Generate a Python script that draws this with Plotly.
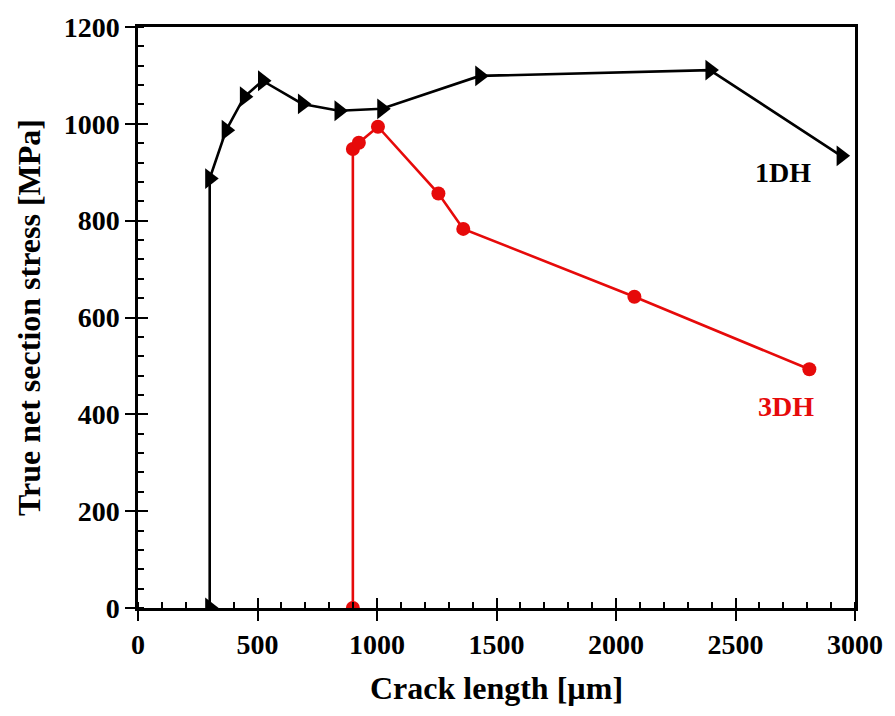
import plotly.graph_objects as go

# Crack length [µm] and true net section stress [MPa] for the two specimens
crack_1dh = [300, 300, 369, 445, 521, 688, 841, 1020, 1430, 2393, 2942]
stress_1dh = [0, 887, 987, 1056, 1089, 1041, 1027, 1031, 1099, 1111, 934]

crack_3dh = [899, 899, 924, 1004, 1257, 1361, 2077, 2809]
stress_3dh = [0, 948, 961, 994, 856, 783, 643, 493]

x_ticks = [0, 500, 1000, 1500, 2000, 2500, 3000]
y_ticks = [0, 200, 400, 600, 800, 1000, 1200]

FONT = "Liberation Serif, Times New Roman, serif"
RED = "#e60a0a"

fig = go.Figure()

fig.add_trace(go.Scatter(
    x=crack_1dh, y=stress_1dh, mode="lines+markers", name="1DH",
    line=dict(color="black", width=2.6),
    marker=dict(symbol="triangle-right", size=18, color="black"),
))
fig.add_trace(go.Scatter(
    x=crack_3dh, y=stress_3dh, mode="lines+markers", name="3DH",
    line=dict(color=RED, width=2.6),
    marker=dict(symbol="circle", size=14, color=RED),
))
# empty trace so the overlay axes (inner half of the major ticks) are drawn
fig.add_trace(go.Scatter(x=[None], y=[None], xaxis="x2", yaxis="y2",
                         showlegend=False, hoverinfo="skip"))

tick_font = dict(family=FONT, size=28, color="black", weight="bold")
title_font = dict(family=FONT, size=32, color="black", weight="bold")

fig.update_layout(
    width=895, height=716,
    margin=dict(l=138, r=36, t=26, b=108),
    paper_bgcolor="white", plot_bgcolor="white",
    showlegend=False,
    xaxis=dict(
        range=[0, 3000], tickvals=x_ticks, ticktext=[str(v) for v in x_ticks],
        showgrid=False, zeroline=False,
        showline=True, linecolor="black", linewidth=2.5, mirror=True,
        ticks="outside", ticklen=10, tickwidth=2, tickcolor="black",
        minor=dict(dtick=100, ticks="inside", ticklen=6, tickwidth=2,
                   tickcolor="black", showgrid=False),
        tickfont=tick_font,
        title=dict(text="Crack length [µm]", font=title_font, standoff=18),
    ),
    yaxis=dict(
        range=[0, 1200], tickvals=y_ticks, ticktext=[str(v) for v in y_ticks],
        showgrid=False, zeroline=False,
        showline=True, linecolor="black", linewidth=2.5, mirror=True,
        ticks="outside", ticklen=10, tickwidth=2, tickcolor="black",
        minor=dict(dtick=40, ticks="inside", ticklen=6, tickwidth=2,
                   tickcolor="black", showgrid=False),
        tickfont=tick_font,
        title=dict(text="True net section stress [MPa]", font=title_font, standoff=14),
    ),
    xaxis2=dict(
        range=[0, 3000], tickvals=x_ticks, overlaying="x", anchor="y2",
        side="bottom", showticklabels=False, showgrid=False, zeroline=False,
        ticks="inside", ticklen=10, tickwidth=2, tickcolor="black",
        showline=False,
    ),
    yaxis2=dict(
        range=[0, 1200], tickvals=y_ticks, overlaying="y", anchor="x2",
        side="left", showticklabels=False, showgrid=False, zeroline=False,
        ticks="inside", ticklen=10, tickwidth=2, tickcolor="black",
        showline=False,
    ),
)

fig.add_annotation(x=2700, y=900, xref="x", yref="y", text="1DH",
                   showarrow=False, font=dict(family=FONT, size=28, color="black", weight="bold"))
fig.add_annotation(x=2710, y=417, xref="x", yref="y", text="3DH",
                   showarrow=False, font=dict(family=FONT, size=28, color=RED, weight="bold"))

fig.write_html("out.html")
